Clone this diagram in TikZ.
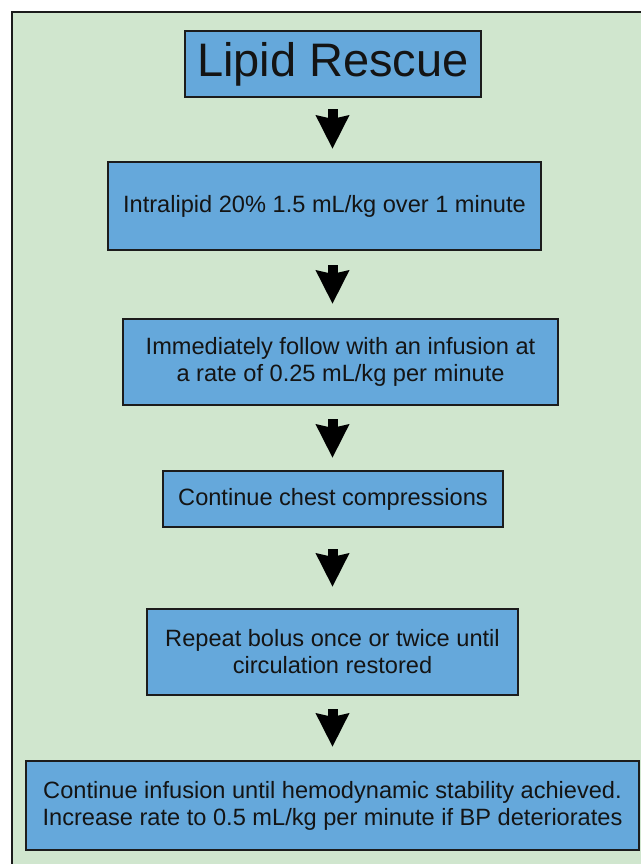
\documentclass[tikz,border=0pt]{standalone}
\usepackage{fontspec}
\setmainfont{Liberation Sans}
\usetikzlibrary{arrows.meta}
\definecolor{panel}{RGB}{208,230,206}
\definecolor{boxblue}{RGB}{101,168,219}
\definecolor{edge}{RGB}{28,28,28}

\begin{document}
\begin{tikzpicture}[x=.5pt,y=-.5pt,
  stepbox/.style={draw=edge,fill=boxblue,line width=1.1pt,align=center,inner sep=0pt,
    text=black!92,font=\fontsize{11.8}{13.5}\selectfont},
  downarrow/.style={line width=5pt,-{Stealth[length=16.5pt,width=16pt,inset=1.5pt]}}]
\useasboundingbox (0,0) rectangle (641,864);
\fill[white] (0,0) rectangle (641,864);
\filldraw[fill=panel,draw=edge,line width=.8pt] (12,12) rectangle (680,900);
\coordinate (ax) at (332.5,0);
% boxes
\node[stepbox,minimum width=148pt,minimum height=33pt,font=\fontsize{23.5}{26}\selectfont] (b1) at (333,64) {Lipid Rescue};
\node[stepbox,minimum width=216.5pt,minimum height=44pt] (b2) at (324.5,206) {Intralipid 20\% 1.5 mL/kg over 1 minute};
\node[stepbox,minimum width=217.5pt,minimum height=43pt] (b3) at (340.5,362) {Immediately follow with an infusion at\\a rate of 0.25 mL/kg per minute};
\node[stepbox,minimum width=170pt,minimum height=28pt] (b4) at (333,499) {Continue chest compressions};
\node[stepbox,minimum width=185.5pt,minimum height=43pt] (b5) at (332.5,652) {Repeat bolus once or twice until\\circulation restored};
\node[stepbox,minimum width=306.5pt,minimum height=44.5pt] (b6) at (332.5,805.5) {Continue infusion until hemodynamic stability achieved.\\Increase rate to 0.5 mL/kg per minute if BP deteriorates};
% arrows
\foreach \a/\b/\s/\t in {b1/b2/5.5pt/6pt,b2/b3/7pt/7pt,b3/b4/6.5pt/6pt,b4/b5/10.5pt/10.5pt,b5/b6/6.5pt/6.5pt}
  \draw[downarrow,shorten <=\s,shorten >=\t] (\a.south -| ax) -- (\b.north -| ax);
\end{tikzpicture}
\end{document}
